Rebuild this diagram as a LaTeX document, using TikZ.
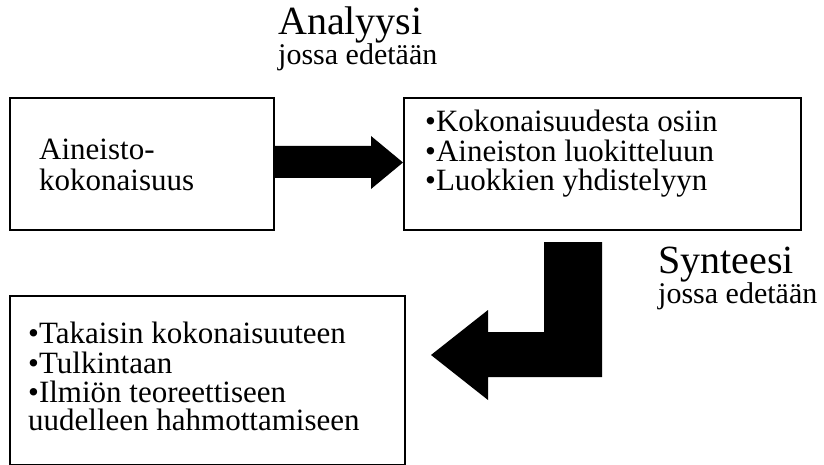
\documentclass[tikz,border=0pt]{standalone}
\usepackage{fontspec}
\setmainfont{Liberation Serif}
\begin{document}
\begin{tikzpicture}[x=1pt,y=-1pt,
  box/.style={draw, line width=1.8pt, inner sep=0pt, anchor=north west},
  txt/.style={anchor=base west, inner sep=0pt, font=\fontsize{31}{31}\selectfont},
  title/.style={anchor=base west, inner sep=0pt, font=\fontsize{40}{40}\selectfont},
  subtitle/.style={anchor=base west, inner sep=0pt, font=\fontsize{30}{30}\selectfont},
  blockarrow/.style={fill=black, draw=none}]
\useasboundingbox (0,0) rectangle (824,465);

% the three boxes
\node[box, minimum width=264pt, minimum height=132pt] (whole) at (9,97) {};
\node[box, minimum width=397pt, minimum height=132pt] (parts) at (403,97) {};
\node[box, minimum width=395pt, minimum height=169pt] (back) at (9,295) {};

% headings
\node[title] (analysis) at (278,35) {Analyysi};
\node[subtitle] (analysissub) at (278,65) {jossa edetään};
\node[title] (synthesis) at (658,273) {Synteesi};
\node[subtitle] (synthesissub) at (658,303) {jossa edetään};

% box contents
\node[txt] (w1) at (39,160) {Aineisto-};
\node[txt] (w2) at (39,190) {kokonaisuus};

\node[txt] (p1) at (425,132) {\textbullet Kokonaisuudesta osiin};
\node[txt] (p2) at (425,162) {\textbullet Aineiston luokitteluun};
\node[txt] (p3) at (425,190) {\textbullet Luokkien yhdistelyyn};

\node[txt] (b1) at (28,343) {\textbullet Takaisin kokonaisuuteen};
\node[txt] (b2) at (28,373) {\textbullet Tulkintaan};
\node[txt] (b3) at (28,402) {\textbullet Ilmiön teoreettiseen};
\node[txt] (b4) at (28,430) {uudelleen hahmottamiseen};

% block arrow: analysis step
\fill[blockarrow] (whole.east |- 0,146) -- (371,146) -- (371,136) -- (parts.west |- 0,162.5)
  -- (371,189) -- (371,178) -- (whole.east |- 0,178) -- cycle;

% bent block arrow: synthesis step
\fill[blockarrow] (544,242) -- (602,242) -- (602,377) -- (488,377) -- (488,400)
  -- (431,355) -- (488,310) -- (488,332) -- (544,332) -- cycle;
\end{tikzpicture}
\end{document}
